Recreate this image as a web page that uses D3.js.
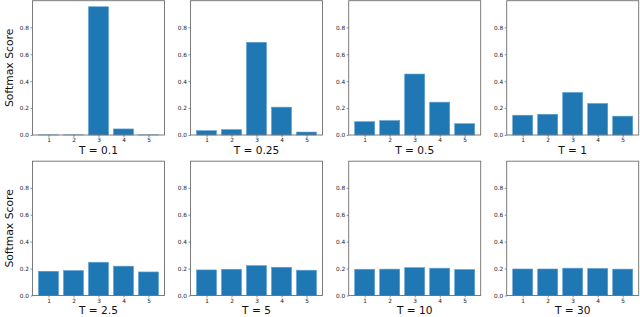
<!DOCTYPE html>
<html>
<head>
<meta charset="utf-8">
<script src="https://cdn.jsdelivr.net/npm/d3@7"></script>
<style>
  html, body { margin: 0; padding: 0; background: #fff; }
  svg { display: block; font-family: "DejaVu Sans", sans-serif; }
</style>
</head>
<body>
<div id="chart"></div>
<script>
// classes on the x axis
const classes = [1, 2, 3, 4, 5];

// softmax scores per temperature
const scoresT0_1  = [0.001, 0.001, 0.953, 0.045, 0.001];
const scoresT0_25 = [0.032, 0.040, 0.689, 0.207, 0.022];
const scoresT0_5  = [0.099, 0.107, 0.453, 0.244, 0.084];
const scoresT1    = [0.147, 0.154, 0.316, 0.234, 0.140];
const scoresT2_5  = [0.180, 0.185, 0.247, 0.218, 0.175];
const scoresT5    = [0.190, 0.195, 0.222, 0.210, 0.188];
const scoresT10   = [0.195, 0.196, 0.207, 0.203, 0.193];
const scoresT30   = [0.197, 0.197, 0.203, 0.201, 0.196];

const titles = ['T = 0.1', 'T = 0.25', 'T = 0.5', 'T = 1', 'T = 2.5', 'T = 5', 'T = 10', 'T = 30'];
const series = [scoresT0_1, scoresT0_25, scoresT0_5, scoresT1, scoresT2_5, scoresT5, scoresT10, scoresT30];
const yTicks = [0, 0.2, 0.4, 0.6, 0.8];

const width = 640, height = 317;
const panelW = 132, panelH = 134.3;
const colLeft = [32.5, 190.5, 348.7, 506.7];
const rowTop = [0.7, 161.2];
const titleGap = [19.5, 18.9];

const svg = d3.select('#chart').append('svg')
    .attr('width', width)
    .attr('height', height);

// shared scales
const x = d3.scaleLinear().domain([0.36, 5.64]).range([0, panelW]);
const y = d3.scaleLinear().domain([0, 0.998]).range([panelH, 0]);
const barW = x(1.4) - x(0.6);

series.forEach(function (values, i) {
    const col = i % 4, row = Math.floor(i / 4);
    const g = svg.append('g')
        .attr('transform', `translate(${colLeft[col]},${rowTop[row]})`);

    // bars
    g.selectAll('.bar')
        .data(values)
        .enter().append('rect')
        .attr('class', 'bar')
        .attr('x', (d, j) => x(classes[j]) - barW / 2)
        .attr('y', d => y(d))
        .attr('width', barW)
        .attr('height', d => panelH - y(d))
        .attr('fill', '#1f77b4')
        .attr('stroke', '#5d9fd1')
        .attr('stroke-width', 0.6);

    // x axis
    const xa = g.append('g')
        .attr('transform', `translate(0,${panelH})`)
        .call(d3.axisBottom(x).tickValues(classes).tickSize(2).tickPadding(1.2).tickFormat(d3.format('d')));
    xa.select('.domain').remove();

    // y axis
    const ya = g.append('g')
        .call(d3.axisLeft(y).tickValues(yTicks).tickSize(2).tickPadding(1.5).tickFormat(d3.format('.1f')));
    ya.select('.domain').remove();

    [xa, ya].forEach(a => {
        a.selectAll('text').attr('font-size', 5.8).attr('fill', '#222').attr('font-family', '"DejaVu Sans", sans-serif');
        a.selectAll('line').attr('stroke', '#444').attr('stroke-width', 0.6);
    });

    // frame
    g.append('rect')
        .attr('width', panelW)
        .attr('height', panelH)
        .attr('fill', 'none')
        .attr('stroke', '#6e6e6e')
        .attr('stroke-width', 0.9);

    // title under the panel
    g.append('text')
        .attr('x', panelW / 2)
        .attr('y', panelH + titleGap[row])
        .attr('text-anchor', 'middle')
        .attr('font-size', 10.6)
        .attr('fill', '#111')
        .text(titles[i]);

    if (col === 0) {
        g.append('text')
            .attr('transform', `translate(-20,${panelH / 2}) rotate(-90)`)
            .attr('text-anchor', 'middle')
            .attr('font-size', 10.8)
            .attr('fill', '#111')
            .text('Softmax Score');
    }
});
</script>
</body>
</html>
